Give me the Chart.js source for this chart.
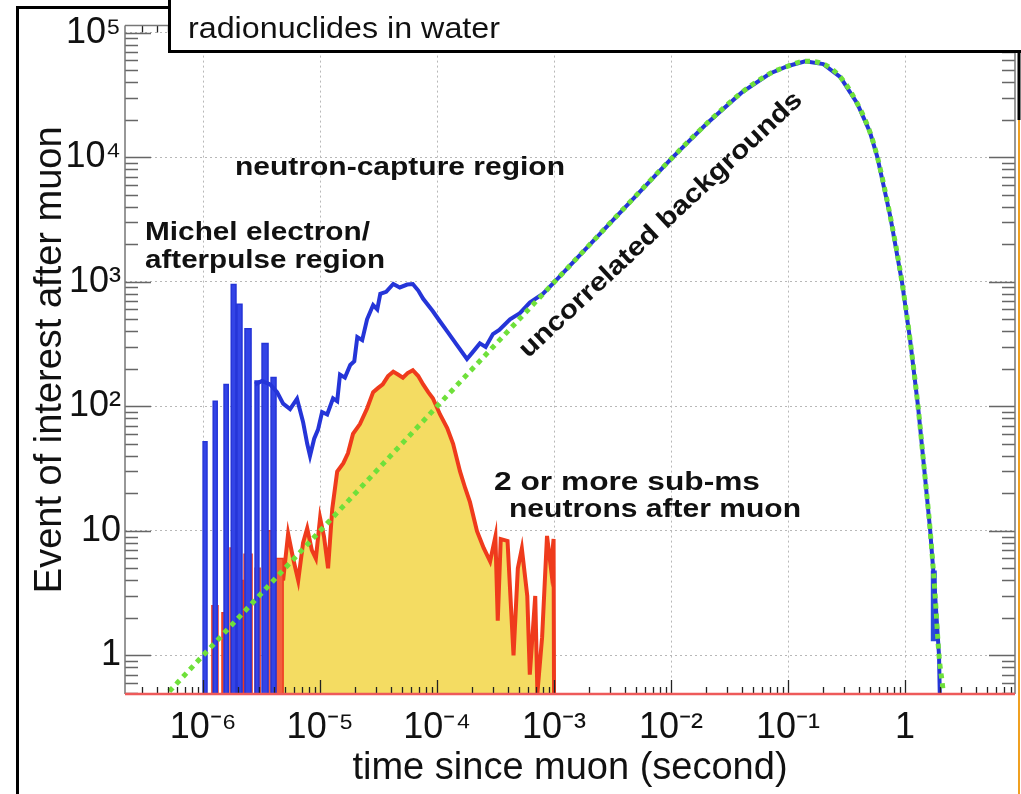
<!DOCTYPE html>
<html>
<head>
<meta charset="utf-8">
<script src="https://cdn.jsdelivr.net/npm/chart.js@4/dist/chart.umd.min.js"></script>
<style>
  html, body { margin: 0; padding: 0; background: #fff; }
  #wrap { position: relative; width: 1021px; height: 794px; }
  canvas { display: block; }
</style>
</head>
<body>
<div id="wrap"><canvas id="c" width="1021" height="794"></canvas></div>
<script>
// ---- tick labels ----
const xTickValues = [1e-6, 1e-5, 1e-4, 1e-3, 1e-2, 1e-1, 1];
const xTickLabels = ['10\u207B\u2076', '10\u207B\u2075', '10\u207B\u2074', '10\u207B\u00B3', '10\u207B\u00B2', '10\u207B\u00B9', '1'];
const yTickValues = [1, 10, 100, 1e3, 1e4, 1e5];
const yTickLabels = ['1', '10', '10\u00B2', '10\u00B3', '10\u2074', '10\u2075'];

// ---- uncorrelated backgrounds (green dotted) ----
const bgTime  = [3e-7, 1e-6, 1e-5, 1e-4, 1e-3, 3e-3, 1e-2, 2e-2, 4e-2, 7e-2, 0.1, 0.14, 0.2, 0.28, 0.39, 0.5, 0.58, 0.745, 0.94, 1.1, 1.29, 1.45, 1.64, 1.8, 1.95, 2.1, 2.3];
const bgCount = [0.3, 1.0, 10, 100, 990, 2950, 9700, 18500, 33000, 47000, 54000, 59000, 56000, 44000, 27000, 16000, 10000, 3400, 1000, 350, 100, 33, 10, 3.2, 1.0, 0.55, 0.2];

// ---- all events (blue histogram, continuous part) ----
const blueTime  = [2.78e-6, 3.19e-6, 3.74e-6, 4.29e-6, 4.83e-6, 5.54e-6, 6.35e-6, 7.15e-6, 7.76e-6, 8.2e-6, 8.9e-6, 9.6e-6, 1.04e-5, 1.15e-5, 1.29e-5, 1.40e-5, 1.48e-5, 1.63e-5, 1.81e-5, 1.96e-5, 2.08e-5, 2.29e-5, 2.52e-5, 2.84e-5, 3.08e-5, 3.27e-5, 3.67e-5, 4.22e-5, 4.8e-5, 5.55e-5, 6.2e-5, 6.9e-5, 7.6e-5, 9.2e-5, 1.06e-4, 1.22e-4, 1.48e-4, 1.8e-4, 2.0e-4, 2.32e-4, 2.6e-4, 3.0e-4, 3.4e-4, 4.2e-4, 5.1e-4, 6.2e-4, 8e-4, 1e-3, 3e-3, 1e-2, 2e-2, 4e-2, 7e-2, 0.1, 0.14, 0.2, 0.28, 0.39, 0.5, 0.58, 0.745, 0.94, 1.1, 1.29, 1.45, 1.64, 1.8, 1.95, 2.0];
const blueCount = [150, 160, 150, 130, 105, 95, 115, 75, 50, 40, 55, 65, 90, 86, 116, 110, 180, 170, 215, 230, 360, 340, 500, 650, 600, 800, 830, 960, 900, 950, 960, 850, 730, 580, 480, 400, 310, 240, 270, 320, 300, 380, 410, 500, 560, 680, 800, 990, 2950, 9700, 18500, 33000, 47000, 54000, 59000, 56000, 44000, 27000, 16000, 10000, 3400, 1000, 350, 100, 33, 10, 3.2, 1.0, 0.3];

// ---- error bar of the last populated bins (blue) ----
const tailErrTime  = [1.76, 1.76];
const tailErrCount = [1.3, 4.8];

// ---- Michel electron / afterpulse spikes (blue bins) ----
const blueSpikeLo  = [1.0e-6, 1.22e-6, 1.51e-6, 1.74e-6, 1.95e-6, 2.28e-6, 2.78e-6, 3.19e-6, 3.81e-6];
const blueSpikeHi  = [1.08e-6, 1.32e-6, 1.64e-6, 1.91e-6, 2.15e-6, 2.57e-6, 3.0e-6, 3.59e-6, 4.2e-6];
const blueSpikeVal = [52, 110, 150, 950, 660, 420, 160, 320, 170];

// ---- 2 or more sub-ms neutrons: early spikes (red bins) ----
const redSpikeLo  = [1.19e-6, 1.45e-6, 1.70e-6, 1.95e-6, 2.24e-6, 2.78e-6, 3.39e-6, 4.2e-6];
const redSpikeHi  = [1.34e-6, 1.63e-6, 1.95e-6, 2.2e-6, 2.62e-6, 3.07e-6, 3.96e-6, 4.83e-6];
const redSpikeVal = [2.5, 2.2, 7.3, 4, 6.5, 5, 10, 6];

// ---- 2 or more sub-ms neutrons: main distribution (yellow, red outline) ----
const nTime  = [4.83e-6, 5.33e-6, 5.88e-6, 6.5e-6, 7.15e-6, 7.76e-6, 8.5e-6, 9.2e-6, 1.0e-5, 1.08e-5, 1.17e-5, 1.27e-5, 1.40e-5, 1.58e-5, 1.73e-5, 1.91e-5, 2.19e-5, 2.52e-5, 2.84e-5, 3.12e-5, 3.43e-5, 3.81e-5, 4.22e-5, 4.63e-5, 5.1e-5, 5.6e-5, 6.2e-5, 6.9e-5, 7.6e-5, 8.4e-5, 9.2e-5, 1.06e-4, 1.22e-4, 1.37e-4, 1.57e-4, 1.74e-4, 1.91e-4, 2.19e-4, 2.5e-4, 2.84e-4, 3.15e-4, 3.3e-4, 3.5e-4, 4.0e-4, 4.5e-4, 4.9e-4, 5.3e-4, 5.9e-4, 6.2e-4, 6.9e-4, 7.2e-4, 7.9e-4, 8.7e-4, 9.4e-4, 9.9e-4, 1.0e-3];
const nCount = [4, 9.5, 6, 4, 8, 10.5, 7, 6, 12.7, 9, 5, 15, 30, 35, 42, 60, 72, 96, 130, 140, 150, 175, 190, 180, 170, 185, 195, 175, 150, 130, 116, 86, 67, 50, 30, 22, 17, 10, 7.3, 5.7, 9, 1.9, 8.6, 8.3, 1.0, 5, 7.2, 3, 0.7, 3, 0.5, 1.4, 9.1, 5, 8.6, 0.3];

const FLOOR = 0.1;
function pts(xs, ys) { return xs.map((t, i) => ({ x: t, y: ys[i] })); }
function bins(lo, hi, v) {
  const out = [];
  lo.forEach((t, i) => { out.push({ x: t, y: FLOOR }); out.push({ x: t, y: v[i] }); out.push({ x: hi[i], y: v[i] }); out.push({ x: hi[i], y: FLOOR }); });
  return out;
}

const FONT = '"Liberation Sans", Arial, Helvetica, sans-serif';
Chart.defaults.font.family = FONT;
Chart.defaults.color = '#000';

const decor = {
  id: 'decor',
  afterDraw(chart) {
    const { ctx, chartArea: ca, scales: { x, y } } = chart;
    const L = ca.left, R = ca.right, T = ca.top, B = ca.bottom;
    ctx.save();
    // minor / major ticks
    ctx.lineWidth = 1.3;
    for (let n = -8; n <= 1; n++) {
      for (let k = 1; k <= 9; k++) {
        const v = k * Math.pow(10, n);
        if (v <= x.min || v >= x.max) continue;
        const px = Math.round(x.getPixelForValue(v)) + 0.5;
        const len = k === 1 ? 14 : 7;
        ctx.strokeStyle = '#222';
        ctx.beginPath(); ctx.moveTo(px, B); ctx.lineTo(px, B - len);
        ctx.moveTo(px, T); ctx.lineTo(px, T + len); ctx.stroke();
      }
    }
    for (let n = -1; n <= 6; n++) {
      for (let k = 1; k <= 9; k++) {
        const v = k * Math.pow(10, n);
        if (v <= y.min || v >= y.max) continue;
        const py = Math.round(y.getPixelForValue(v)) + 0.5;
        const len = k === 1 ? 26 : 13;
        ctx.strokeStyle = '#666';
        ctx.beginPath(); ctx.moveTo(L, py); ctx.lineTo(L + len, py);
        ctx.moveTo(R, py); ctx.lineTo(R - len, py); ctx.stroke();
      }
    }
    // axis lines
    ctx.strokeStyle = '#777'; ctx.lineWidth = 1.5;
    ctx.beginPath(); ctx.moveTo(L, T); ctx.lineTo(L, B); ctx.moveTo(R, T); ctx.lineTo(R, B); ctx.moveTo(L, T); ctx.lineTo(R, T); ctx.stroke();
    ctx.strokeStyle = '#ee5a5a'; ctx.lineWidth = 2.5;
    ctx.beginPath(); ctx.moveTo(L, B); ctx.lineTo(R, B); ctx.stroke();

    // annotations
    function fit(text, font, xl, yc, w) {
      ctx.font = font;
      const mw = ctx.measureText(text).width;
      ctx.save(); ctx.translate(xl, yc); ctx.scale(w / mw, 1);
      ctx.textAlign = 'left'; ctx.textBaseline = 'middle'; ctx.fillStyle = '#111';
      ctx.fillText(text, 0, 0); ctx.restore();
    }
    const bold = 'bold 25px ' + FONT;
    fit('neutron-capture region', bold, 235, 168, 330);
    fit('Michel electron/', bold, 145, 233, 225);
    fit('afterpulse region', bold, 145, 261, 240);
    fit('2 or more sub-ms', bold, 494, 483, 266);
    fit('neutrons after muon', bold, 509, 510, 292);
    // rotated label
    ctx.save();
    ctx.font = 'bold 26px ' + FONT;
    const rw = ctx.measureText('uncorrelated backgrounds').width;
    ctx.translate(661, 225); ctx.rotate(-43.0 * Math.PI / 180); ctx.scale(377 / rw, 1);
    ctx.textAlign = 'center'; ctx.textBaseline = 'middle'; ctx.fillStyle = '#111';
    ctx.fillText('uncorrelated backgrounds', 0, 0);
    ctx.restore();

    // caption box
    ctx.fillStyle = '#fff';
    ctx.fillRect(168, -10, 900, 62);
    ctx.strokeStyle = '#000'; ctx.lineWidth = 3;
    ctx.strokeRect(169.5, -10, 900, 61.5);
    fit('radionuclides in water', '30px ' + FONT, 188, 30, 312);

    // outer frame
    ctx.strokeStyle = '#000'; ctx.lineWidth = 3;
    ctx.beginPath(); ctx.moveTo(17.5, 794); ctx.lineTo(17.5, 7.5); ctx.lineTo(170, 7.5); ctx.stroke();
    ctx.strokeStyle = '#f0a020'; ctx.lineWidth = 2;
    ctx.beginPath(); ctx.moveTo(1019, 52); ctx.lineTo(1019, 794); ctx.stroke();
    ctx.strokeStyle = '#000'; ctx.lineWidth = 3;
    ctx.beginPath(); ctx.moveTo(1019, 50); ctx.lineTo(1019, 120); ctx.stroke();
    ctx.restore();
  }
};

new Chart(document.getElementById('c'), {
  type: 'line',
  data: {
    datasets: [
      { label: 'uncorrelated backgrounds', data: pts(bgTime, bgCount), borderColor: '#6fe03a', borderWidth: 5, borderDash: [5, 5], borderCapStyle: 'butt', pointRadius: 0, fill: false, cubicInterpolationMode: 'monotone' },
      { label: 'all events', data: pts(blueTime, blueCount), borderColor: '#2535d8', borderWidth: 4, pointRadius: 0, fill: false },
      { label: 'all events (error)', data: pts(tailErrTime, tailErrCount), borderColor: '#2a4ad8', borderWidth: 6, pointRadius: 0, fill: false },
      { label: 'Michel electron / afterpulse', data: bins(blueSpikeLo, blueSpikeHi, blueSpikeVal), borderColor: '#2535d8', backgroundColor: '#3344e6', borderWidth: 1.5, pointRadius: 0, fill: 'start' },
      { label: '2 or more sub-ms neutrons (early)', data: bins(redSpikeLo, redSpikeHi, redSpikeVal), borderColor: '#ee3a1e', backgroundColor: '#f2603e', borderWidth: 1.5, pointRadius: 0, fill: 'start' },
      { label: '2 or more sub-ms neutrons after muon', data: pts(nTime, nCount), borderColor: '#ef3b1c', backgroundColor: '#f4dc62', borderWidth: 4, pointRadius: 0, fill: 'start' }
    ]
  },
  options: {
    responsive: false,
    animation: false,
    events: [],
    layout: { padding: { left: 28, top: 22, right: 6, bottom: 3 } },
    plugins: { legend: { display: false }, tooltip: { enabled: false } },
    scales: {
      x: {
        type: 'logarithmic', min: 2.15e-7, max: 8.7,
        afterBuildTicks: s => { s.ticks = xTickValues.map(v => ({ value: v })); },
        afterFit: s => { s.height = 97; },
        ticks: { autoSkip: false, maxRotation: 0, padding: 12, font: { size: 36 }, color: '#111', callback: (v, i) => xTickLabels[i] },
        grid: { color: '#b8b8b8', lineWidth: 1, drawTicks: false },
        border: { display: false, dash: [2, 3] },
        title: { display: true, text: 'time since muon (second)', font: { size: 38 }, color: '#111', padding: { top: 0, bottom: 0 } }
      },
      y: {
        type: 'logarithmic', min: 0.49, max: 1.14e5,
        afterBuildTicks: s => { s.ticks = yTickValues.map(v => ({ value: v })); },
        afterFit: s => { s.width = 97; },
        ticks: { autoSkip: false, padding: 4, font: { size: 36 }, color: '#111', callback: (v, i) => yTickLabels[i] },
        grid: { color: '#b8b8b8', lineWidth: 1, drawTicks: false },
        border: { display: false, dash: [2, 3] },
        title: { display: true, text: 'Event of interest after muon', font: { size: 38 }, color: '#111', padding: { top: 0, bottom: 0 } }
      }
    }
  },
  plugins: [decor]
});
</script>
</body>
</html>
